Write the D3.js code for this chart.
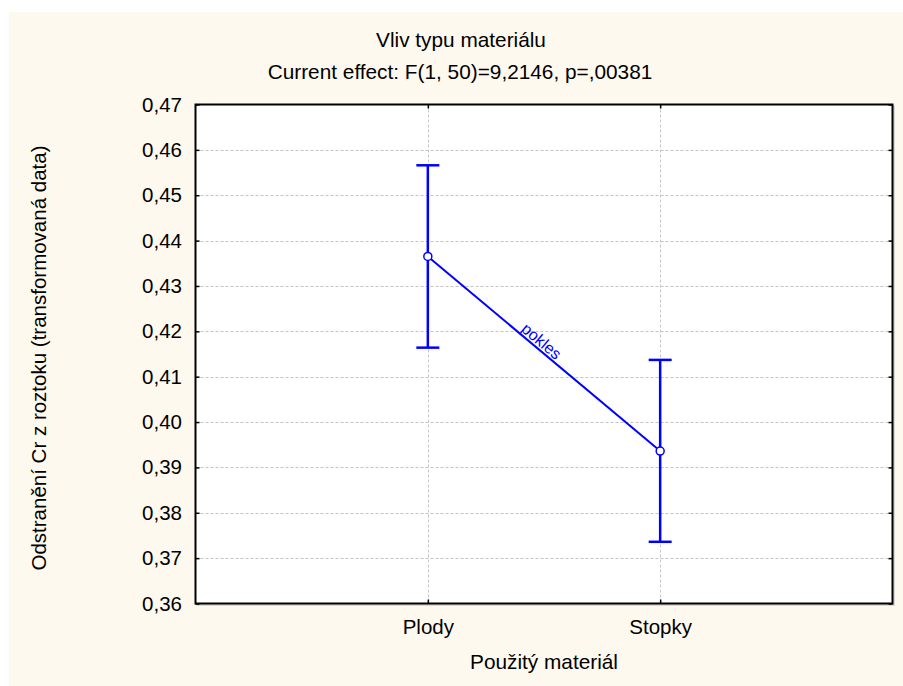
<!DOCTYPE html>
<html>
<head>
<meta charset="utf-8">
<script src="https://cdn.jsdelivr.net/npm/d3@7/dist/d3.min.js"></script>
<style>
  html, body { margin: 0; padding: 0; background: #ffffff; }
  svg { display: block; }
  text { font-family: "Liberation Sans", Arial, sans-serif; fill: #000; }
</style>
</head>
<body>
<script>
// Group means with 95% confidence intervals
const categories = ["Plody", "Stopky"];
const means = [0.4365, 0.3936];
const lowerCI = [0.4164, 0.3736];
const upperCI = [0.4566, 0.4137];
const yTicks = [0.36, 0.37, 0.38, 0.39, 0.40, 0.41, 0.42, 0.43, 0.44, 0.45, 0.46, 0.47];

const titleText = "Vliv typu materiálu";
const subtitleText = "Current effect: F(1, 50)=9,2146, p=,00381";
const xTitle = "Použitý materiál";
const yTitle = "Odstranění Cr z roztoku (transformovaná data)";
const lineLabel = "pokles";

const W = 903, H = 686;
const plot = { left: 195.5, right: 892.5, top: 104.5, bottom: 603.5 };
const blue = "#0000ff";

const svg = d3.select("body").append("svg").attr("width", W).attr("height", H);

// panel background
svg.append("rect").attr("x", 9).attr("y", 12).attr("width", W - 9).attr("height", H - 12)
  .attr("fill", "#fef9ee");

// plot background with a faint shadow along right/bottom
svg.append("rect").attr("x", plot.left + 1.5).attr("y", plot.top + 1.5)
  .attr("width", plot.right - plot.left).attr("height", plot.bottom - plot.top)
  .attr("fill", "none").attr("stroke", "#b8b8b8").attr("stroke-width", 1);
svg.append("rect").attr("x", plot.left).attr("y", plot.top)
  .attr("width", plot.right - plot.left).attr("height", plot.bottom - plot.top)
  .attr("fill", "#ffffff");

const x = d3.scalePoint().domain(categories).range([plot.left, plot.right]).padding(1);
const y = d3.scaleLinear().domain([0.36, 0.47]).range([plot.bottom, plot.top]);
const fmt = v => d3.format(".2f")(v).replace(".", ",");

// grid
const grid = svg.append("g").attr("stroke", "#c4c4c4").attr("stroke-width", 1)
  .attr("stroke-dasharray", "3,2");
grid.selectAll("line.h").data(yTicks.filter(v => v > 0.36 && v < 0.47)).join("line")
  .attr("class", "h")
  .attr("x1", plot.left).attr("x2", plot.right)
  .attr("y1", d => Math.round(y(d)) + 0.5).attr("y2", d => Math.round(y(d)) + 0.5);
grid.selectAll("line.v").data(categories).join("line")
  .attr("class", "v")
  .attr("y1", plot.top).attr("y2", plot.bottom)
  .attr("x1", d => Math.round(x(d)) + 0.5).attr("x2", d => Math.round(x(d)) + 0.5);

// axes with inward ticks
const axisStyle = g => {
  g.select(".domain").remove();
  g.selectAll(".tick line").attr("stroke", "#000").attr("stroke-width", 1.5);
  g.selectAll(".tick text").attr("font-size", 20.5).attr("fill", "#000");
};
svg.append("g").attr("transform", `translate(${plot.left},0)`)
  .call(d3.axisLeft(y).tickValues(yTicks).tickFormat(fmt).tickSizeInner(-4).tickSizeOuter(0).tickPadding(13.5))
  .call(axisStyle);
svg.append("g").attr("transform", `translate(${plot.right},0)`)
  .call(d3.axisRight(y).tickValues(yTicks).tickFormat("").tickSizeInner(-4).tickSizeOuter(0))
  .call(axisStyle);
svg.append("g").attr("transform", `translate(0,${plot.bottom})`)
  .call(d3.axisBottom(x).tickSizeInner(-4).tickSizeOuter(0).tickPadding(16))
  .call(axisStyle);
svg.append("g").attr("transform", `translate(0,${plot.top})`)
  .call(d3.axisTop(x).tickFormat("").tickSizeInner(-4).tickSizeOuter(0))
  .call(axisStyle);

// frame
svg.append("rect").attr("x", plot.left).attr("y", plot.top)
  .attr("width", plot.right - plot.left).attr("height", plot.bottom - plot.top)
  .attr("fill", "none").attr("stroke", "#000").attr("stroke-width", 2);

// connecting line
const pts = categories.map((c, i) => [x(c), y(means[i])]);
svg.append("path").attr("d", d3.line()(pts))
  .attr("fill", "none").attr("stroke", blue).attr("stroke-width", 2);

// line label, aligned with the segment
const ang = Math.atan2(pts[1][1] - pts[0][1], pts[1][0] - pts[0][0]);
const mid = [(pts[0][0] + pts[1][0]) / 2 - 10 * Math.cos(ang), (pts[0][1] + pts[1][1]) / 2 - 10 * Math.sin(ang)];
svg.append("text")
  .attr("transform", `translate(${mid[0]},${mid[1]}) rotate(${ang * 180 / Math.PI})`)
  .attr("text-anchor", "middle").attr("dy", -2.5)
  .attr("font-size", 16).style("fill", blue).text(lineLabel);

// error bars
const eb = svg.append("g").attr("stroke", blue).attr("stroke-width", 2.5).attr("fill", "none");
categories.forEach((c, i) => {
  const cx = x(c);
  eb.append("line").attr("x1", cx).attr("x2", cx).attr("y1", y(lowerCI[i])).attr("y2", y(upperCI[i]));
  eb.append("line").attr("x1", cx - 11.5).attr("x2", cx + 11.5).attr("y1", y(lowerCI[i])).attr("y2", y(lowerCI[i]));
  eb.append("line").attr("x1", cx - 11.5).attr("x2", cx + 11.5).attr("y1", y(upperCI[i])).attr("y2", y(upperCI[i]));
});

// mean markers
svg.selectAll("circle.m").data(categories).join("circle")
  .attr("class", "m")
  .attr("cx", d => x(d)).attr("cy", (d, i) => y(means[i])).attr("r", 4)
  .attr("fill", "#ffffff").attr("stroke", blue).attr("stroke-width", 1.5);

// titles
svg.append("text").attr("x", 461).attr("y", 47).attr("text-anchor", "middle")
  .attr("font-size", 20.8).text(titleText);
svg.append("text").attr("x", 460).attr("y", 79).attr("text-anchor", "middle")
  .attr("font-size", 20.8).text(subtitleText);
svg.append("text").attr("x", (plot.left + plot.right) / 2).attr("y", 669).attr("text-anchor", "middle")
  .attr("font-size", 20.8).text(xTitle);
svg.append("text").attr("transform", `translate(46,${(plot.top + plot.bottom) / 2 + 4}) rotate(-90)`)
  .attr("text-anchor", "middle").attr("font-size", 20.5).text(yTitle);
</script>
</body>
</html>
